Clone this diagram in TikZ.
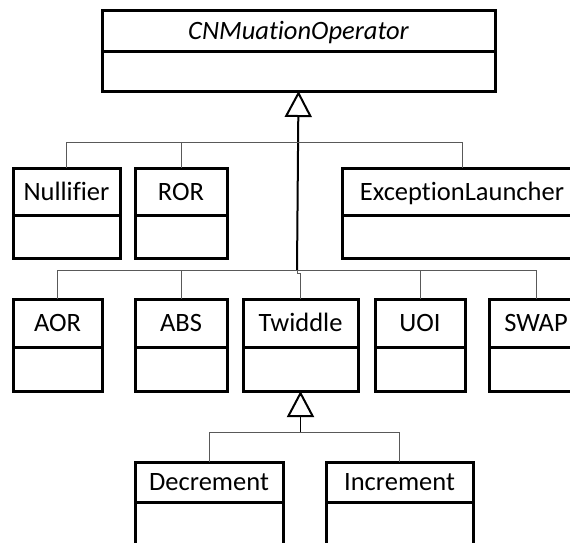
\documentclass[tikz,border=0pt]{standalone}
\usepackage{fontspec}
\setmainfont{Carlito}[Ligatures=NoCommon]
\usetikzlibrary{arrows.meta}

% UML class box: title compartment (#1) and empty body compartment (#1b)
% args: name, x left, x right, y top, y divider, y bottom, title
\newcommand\umlclass[7]{%
  \node[clstitle, minimum width={#3-#2}, minimum height={#5-#4}, anchor=north west] (#1) at (#2,#4) {#7};
  \node[clsbody, minimum width={#3-#2}, minimum height={#6-#5}, anchor=north] (#1b) at (#1.south) {};
}

\tikzset{
  clsbase/.style={draw=black, fill=white, line width=3pt, outer sep=0pt, inner sep=0pt},
  clstitle/.style={clsbase, font=\fontsize{26.5}{30}\selectfont, text height=17pt, text depth=0pt},
  clsbody/.style={clsbase},
  conn/.style={draw=black!65, line width=1pt},
  trunk/.style={draw=black, line width=2pt},
  gen/.style={-{Triangle[open, length=26pt, width=27pt, line width=2pt]}},
}

\begin{document}
\begin{tikzpicture}[x=1pt, y=-1pt]
  \useasboundingbox (0,0) rectangle (570,542);
  \fill[white] (0,0) rectangle (570,542);
  \clip (0,0) rectangle (570,542);

  % abstract base class
  \umlclass{top}{102}{495}{10}{51}{91}{\itshape CNMuationOperator}

  % first row of subclasses
  \umlclass{nul}{13}{120}{168}{215}{258}{Nullifier}
  \umlclass{ror}{135}{227}{168}{215}{258}{ROR}
  \umlclass{exc}{342}{582}{168}{215}{258}{ExceptionLauncher}

  % second row of subclasses
  \umlclass{aor}{13}{102}{299}{347}{391}{AOR}
  \umlclass{abs}{135}{227}{299}{347}{391}{ABS}
  \umlclass{twi}{243}{358}{299}{347}{391}{Twiddle}
  \umlclass{uoi}{375}{465}{299}{347}{391}{UOI}
  \umlclass{swp}{489}{583}{299}{347}{391}{SWAP}

  % subclasses of Twiddle
  \umlclass{dec}{135}{283}{462}{502}{570}{Decrement}
  \umlclass{inc}{326}{473}{462}{502}{570}{Increment}

  % junction points of the generalisation trees
  \coordinate (j1) at (297,142);
  \coordinate (j2) at (297,270);
  \coordinate (j3) at (300.5,432);

  % generalisation to CNMuationOperator
  \draw[trunk, gen] (j2) -- (topb.south);
  \draw[conn] (nul.north) |- (j1);
  \draw[conn] (ror.north) |- (j1);
  \draw[conn] (exc.north) |- (j1);
  \draw[conn] (aor.north) |- (j2);
  \draw[conn] (abs.north) |- (j2);
  \draw[conn] (twi.north) |- ([yshift=-3pt]j2) -- (j2);
  \draw[conn] (uoi.north) |- (j2);
  \draw[conn] (swp.north) |- (j2);

  % generalisation to Twiddle
  \draw[trunk, line width=1.5pt, gen] (j3) -- (twib.south);
  \draw[conn] (dec.north) |- (j3);
  \draw[conn] (inc.north) |- (j3);
\end{tikzpicture}
\end{document}
